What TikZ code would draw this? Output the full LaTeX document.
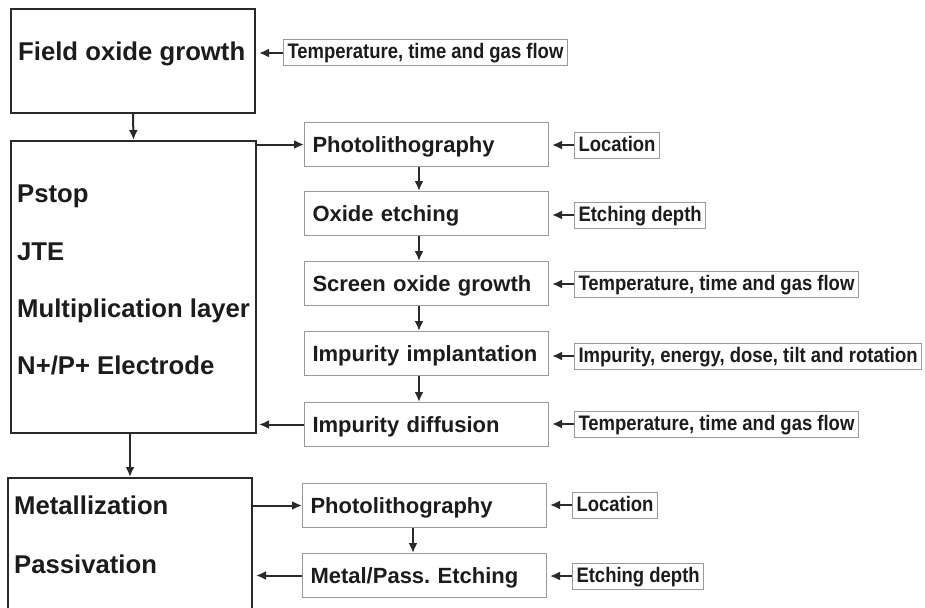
\documentclass[tikz,border=0pt]{standalone}
\usepackage{fontspec}
\setmainfont{Liberation Sans}
\newfontfamily\condfont[FakeStretch=0.88]{Liberation Sans}
\usetikzlibrary{arrows.meta}
\definecolor{ink}{HTML}{1C1C1C}
\definecolor{frame}{HTML}{2A2A2A}
\definecolor{thin}{HTML}{999999}
\tikzset{
  bigframe/.style={draw=frame, line width=2pt, inner sep=0pt, anchor=north west},
  bigtext/.style={font=\bfseries\fontsize{25.7}{30}\selectfont, text=ink, anchor=base west, inner sep=0pt},
  proc/.style={draw=thin, line width=1pt, anchor=north west, minimum height=44pt,
    text width=228pt, inner xsep=8pt, align=left, text height=15.8pt, text depth=0pt,
    font=\bfseries\fontsize{22}{26}\selectfont, text=ink},
  param/.style={draw=thin, line width=1pt, anchor=west, minimum height=26pt, inner xsep=4pt,
    text height=15pt, text depth=3pt,
    font=\condfont\bfseries\fontsize{21}{24}\selectfont, text=ink},
  arr/.style={draw=frame, line width=2pt, -{Latex[length=10pt,width=9pt]}},
}
\begin{document}
\frenchspacing
\begin{tikzpicture}[x=1pt,y=-1pt]
\useasboundingbox[fill=white] (0,0) rectangle (925,607);

% big frames
\node[bigframe, minimum width=244pt, minimum height=104pt] (field) at (10,8) {};
\node[bigframe, minimum width=245pt, minimum height=292pt] (big) at (10,140) {};
\node[bigframe, minimum width=244pt, minimum height=150pt] (met) at (7,477) {};

% big texts
\node[bigtext] (tfield) at (18,61) {Field oxide growth};
\node[bigtext] (tpstop) at (17,202) {Pstop};
\node[bigtext] (tjte) at (17,260) {JTE};
\node[bigtext] (tmult) at (17,317) {Multiplication layer};
\node[bigtext] (telec) at (17,374) {N+/P+ Electrode};
\node[bigtext] (tmetal) at (14,514) {Metallization};
\node[bigtext] (tpass) at (14,573) {Passivation};

% process boxes
\node[proc] (ph1) at (304,122) {Photolithography};
\node[proc] (ox)  at (304,191) {Oxide etching};
\node[proc] (scr) at (304,261) {Screen oxide growth};
\node[proc] (imp) at (304,331) {Impurity implantation};
\node[proc] (dif) at (304,402) {Impurity diffusion};
\node[proc] (ph2) at (302,483) {Photolithography};
\node[proc] (mpe) at (302,553) {Metal/Pass. Etching};

% parameter boxes
\node[param] (t0)   at (283,53)  {Temperature, time and gas flow};
\node[param] (loc1) at (574,145) {Location};
\node[param] (etd1) at (574,215) {Etching depth};
\node[param] (t2)   at (574,284) {Temperature, time and gas flow};
\node[param] (impp) at (574,356) {Impurity, energy, dose, tilt and rotation};
\node[param] (t3)   at (574,424) {Temperature, time and gas flow};
\node[param] (loc2) at (572,505) {Location};
\node[param] (etd2) at (572,576) {Etching depth};

\coordinate (ax) at (419,0);
\coordinate (bx) at (413,0);

% parameter arrows
\foreach \p/\q in {t0/field, loc1/ph1, etd1/ox, t2/scr, impp/imp, t3/dif, loc2/ph2, etd2/mpe}
  \draw[arr, shorten >=3pt] (\p.west) -- (\p.west -| \q.east);

% main flow
\draw[arr] (field.south) -- (big.north);
\draw[arr] (ph1.west -| big.east) -- (ph1.west);
\draw[arr] (ph1.south -| ax) -- (ox.north -| ax);
\draw[arr] (ox.south -| ax) -- (scr.north -| ax);
\draw[arr] (scr.south -| ax) -- (imp.north -| ax);
\draw[arr] (imp.south -| ax) -- (dif.north -| ax);
\draw[arr, shorten >=2pt] (dif.west) -- (dif.west -| big.east);
\draw[arr] (big.south -| met.north) -- (met.north);
\draw[arr] (ph2.west -| met.east) -- (ph2.west);
\draw[arr] (ph2.south -| bx) -- (mpe.north -| bx);
\draw[arr, shorten >=3pt] (mpe.west) -- (mpe.west -| met.east);
\end{tikzpicture}
\end{document}
